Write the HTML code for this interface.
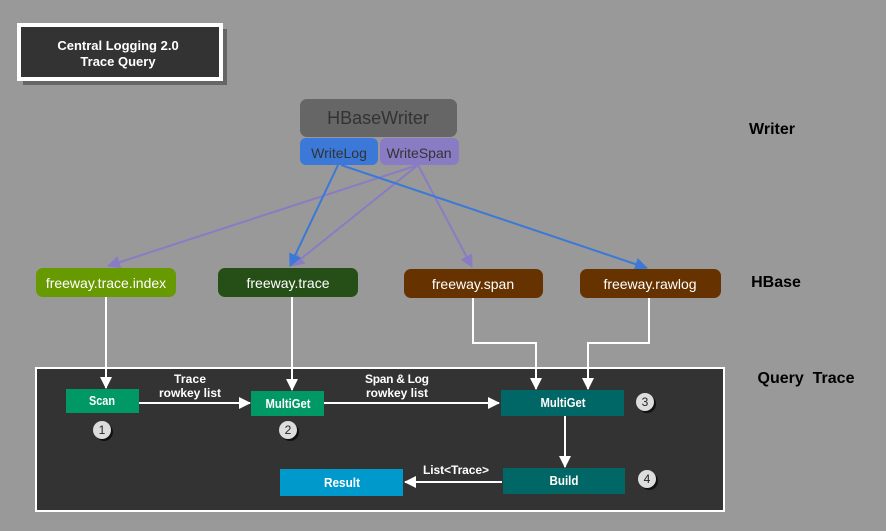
<!DOCTYPE html>
<html><head><meta charset="utf-8"><style>
html,body{margin:0;padding:0;background:#999;}
svg{display:block;font-family:"Liberation Sans",Arial,sans-serif;}
</style></head><body>
<svg width="886" height="531" viewBox="0 0 886 531" xmlns="http://www.w3.org/2000/svg">
<defs>
<marker id="aw" markerWidth="12" markerHeight="12" refX="11" refY="6" orient="auto" markerUnits="userSpaceOnUse"><path d="M0,0 L12,6 L0,12 z" fill="#fff"/></marker>
<marker id="ab" markerWidth="13" markerHeight="13" refX="12" refY="6.5" orient="auto" markerUnits="userSpaceOnUse"><path d="M0,0 L13,6.5 L0,13 z" fill="#3b78d8"/></marker>
<marker id="ap" markerWidth="13" markerHeight="13" refX="12" refY="6.5" orient="auto" markerUnits="userSpaceOnUse"><path d="M0,0 L13,6.5 L0,13 z" fill="#8a7cc4"/></marker>
</defs>
<rect width="886" height="531" fill="#999"/>
<rect x="23" y="29" width="204" height="56" fill="#666"/>
<rect x="19" y="25" width="202" height="54" fill="#333" stroke="#fff" stroke-width="4"/>
<text x="118" y="50" fill="#fff" font-size="13" font-weight="bold" text-anchor="middle">Central Logging 2.0</text>
<text x="118" y="66" fill="#fff" font-size="13" font-weight="bold" text-anchor="middle">Trace Query</text>
<rect x="300" y="99" width="157" height="38" rx="7" fill="#666"/>
<text x="378" y="124" fill="#333" font-size="18" text-anchor="middle">HBaseWriter</text>
<rect x="300" y="138" width="78" height="27" rx="6" fill="#3b78d8"/>
<text x="339" y="158" fill="#333" font-size="14" text-anchor="middle">WriteLog</text>
<rect x="380" y="138" width="79" height="27" rx="6" fill="#8a7cc4"/>
<text x="419" y="158" fill="#333" font-size="14" text-anchor="middle">WriteSpan</text>
<text x="772" y="134" font-size="16" font-weight="bold" text-anchor="middle" fill="#000">Writer</text>
<text x="776" y="287" font-size="16" font-weight="bold" text-anchor="middle" fill="#000">HBase</text>
<text x="806" y="383" font-size="16" font-weight="bold" text-anchor="middle" fill="#000">Query&#160;&#160;Trace</text>
<g stroke-width="2" fill="none">
<line x1="418" y1="165" x2="108" y2="266" stroke="#8a7cc4" marker-end="url(#ap)"/>
<line x1="418" y1="165" x2="292" y2="266" stroke="#8a7cc4" marker-end="url(#ap)"/>
<line x1="418" y1="165" x2="472" y2="267" stroke="#8a7cc4" marker-end="url(#ap)"/>
<line x1="338" y1="165" x2="290" y2="266" stroke="#3b78d8" marker-end="url(#ab)"/>
<line x1="341" y1="165" x2="647" y2="268" stroke="#3b78d8" marker-end="url(#ab)"/>
</g>
<rect x="36" y="268" width="140" height="29" rx="7" fill="#669a00"/>
<text x="106" y="288" fill="#fff" font-size="14" text-anchor="middle">freeway.trace.index</text>
<rect x="218" y="268" width="140" height="29" rx="7" fill="#254f16"/>
<text x="288" y="288" fill="#fff" font-size="14" text-anchor="middle">freeway.trace</text>
<rect x="404" y="269" width="139" height="29" rx="7" fill="#663300"/>
<text x="473" y="289" fill="#fff" font-size="14" text-anchor="middle">freeway.span</text>
<rect x="580" y="269" width="141" height="29" rx="7" fill="#663300"/>
<text x="650" y="289" fill="#fff" font-size="14" text-anchor="middle">freeway.rawlog</text>
<rect x="36" y="368" width="688" height="143" fill="#333" stroke="#fff" stroke-width="2"/>
<g stroke="#fff" stroke-width="2" fill="none" marker-end="url(#aw)">
<line x1="106" y1="297" x2="106" y2="388"/>
<line x1="292" y1="297" x2="292" y2="390"/>
<polyline points="473,298 473,343 536,343 536,389"/>
<polyline points="649,298 649,343 588,343 588,389"/>
<line x1="139" y1="403" x2="250" y2="403"/>
<line x1="324" y1="403" x2="499" y2="403"/>
<line x1="565" y1="416" x2="565" y2="467"/>
<line x1="502" y1="482" x2="405" y2="482"/>
</g>
<rect x="66" y="389" width="73" height="24" fill="#009966"/>
<text x="102" y="405" fill="#fff" font-size="13" font-weight="bold" text-anchor="middle" textLength="26" lengthAdjust="spacingAndGlyphs">Scan</text>
<rect x="251" y="391" width="73" height="25" fill="#009966"/>
<text x="288" y="408" fill="#fff" font-size="13" font-weight="bold" text-anchor="middle" textLength="45" lengthAdjust="spacingAndGlyphs">MultiGet</text>
<rect x="501" y="390" width="123" height="26" fill="#006666"/>
<text x="563" y="407" fill="#fff" font-size="13" font-weight="bold" text-anchor="middle" textLength="45" lengthAdjust="spacingAndGlyphs">MultiGet</text>
<rect x="503" y="468" width="122" height="26" fill="#006666"/>
<text x="564" y="485" fill="#fff" font-size="13" font-weight="bold" text-anchor="middle" textLength="29" lengthAdjust="spacingAndGlyphs">Build</text>
<rect x="280" y="469" width="123" height="27" fill="#0099cc"/>
<text x="342" y="487" fill="#fff" font-size="13" font-weight="bold" text-anchor="middle" textLength="36" lengthAdjust="spacingAndGlyphs">Result</text>
<g fill="#fff" font-size="12" font-weight="bold" text-anchor="middle" lengthAdjust="spacingAndGlyphs">
<text x="190" y="383" textLength="32">Trace</text><text x="190" y="397" textLength="62">rowkey list</text>
<text x="397" y="383" textLength="64">Span &amp; Log</text><text x="397" y="397" textLength="62">rowkey list</text>
<text x="456" y="474" textLength="66">List&lt;Trace&gt;</text>
</g>
<g font-size="12" text-anchor="middle" fill="#222">
<circle cx="104" cy="432" r="9" fill="#111"/><circle cx="102" cy="430" r="9" fill="#ddd"/><text x="102" y="434">1</text>
<circle cx="290" cy="432" r="9" fill="#111"/><circle cx="288" cy="430" r="9" fill="#ddd"/><text x="288" y="434">2</text>
<circle cx="647" cy="404" r="9" fill="#111"/><circle cx="645" cy="402" r="9" fill="#ddd"/><text x="645" y="406">3</text>
<circle cx="649" cy="481" r="9" fill="#111"/><circle cx="647" cy="479" r="9" fill="#ddd"/><text x="647" y="483">4</text>
</g>
</svg>
</body></html>
